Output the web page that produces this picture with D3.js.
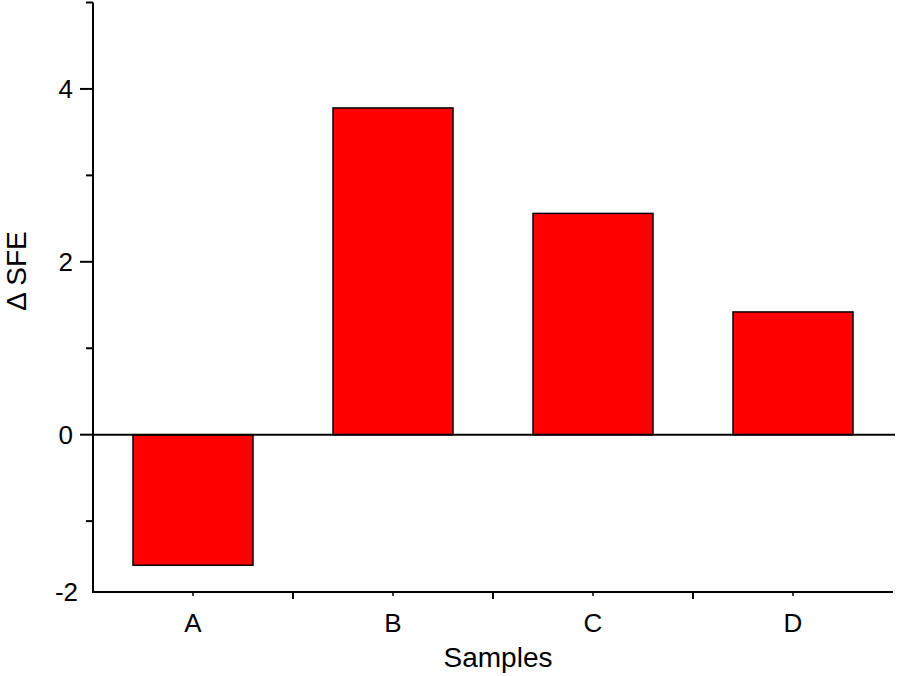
<!DOCTYPE html>
<html>
<head>
<meta charset="utf-8">
<script src="https://cdn.jsdelivr.net/npm/d3@7"></script>
<style>
  body { margin: 0; background: #fff; }
  text { font-family: "Liberation Sans", Arial, sans-serif; fill: #000; }
</style>
</head>
<body>
<svg id="chart" width="898" height="676"></svg>
<script>
// chart values
var samples = ["A", "B", "C", "D"];
var deltaSFE = [-1.51, 3.78, 2.56, 1.42];
var yMajorTicks = [4, 2, 0];
var yMinorTicks = [5, 3, 1, -1];
var yBottomLabel = "-2";

var svg = d3.select("#chart");
var margins = {top: 2.5, left: 93, right: 5, bottom: 84};
var width = +svg.attr("width"),
    height = +svg.attr("height");

var yMin = -1.82, yMax = 5;

var x = d3.scaleBand().domain(samples)
    .range([margins.left, width - margins.right])
    .paddingInner(0.4).paddingOuter(0.2);
var y = d3.scaleLinear().domain([yMin, yMax])
    .range([height - margins.bottom, margins.top]);

var step = x.step();

// bars
svg.selectAll(".bar")
  .data(samples)
  .enter().append("rect")
    .attr("class", "bar")
    .attr("x", function(d) { return x(d); })
    .attr("width", x.bandwidth())
    .attr("y", function(d, i) { return y(Math.max(0, deltaSFE[i])); })
    .attr("height", function(d, i) { return Math.abs(y(deltaSFE[i]) - y(0)); })
    .attr("fill", "#ff0000")
    .attr("stroke", "#000")
    .attr("stroke-width", 1.5);

// zero line
svg.append("line")
    .attr("x1", margins.left).attr("x2", width - 3)
    .attr("y1", y(0)).attr("y2", y(0))
    .attr("stroke", "#000").attr("stroke-width", 2);

// y axis
var yAxis = svg.append("g");
yAxis.append("line")
    .attr("x1", margins.left).attr("x2", margins.left)
    .attr("y1", y(yMax)).attr("y2", y(yMin) + 1)
    .attr("stroke", "#000").attr("stroke-width", 2);

yAxis.selectAll(".major")
  .data(yMajorTicks)
  .enter().append("line")
    .attr("x1", margins.left - 13).attr("x2", margins.left)
    .attr("y1", function(d) { return y(d); })
    .attr("y2", function(d) { return y(d); })
    .attr("stroke", "#000").attr("stroke-width", 2);

yAxis.selectAll(".minor")
  .data(yMinorTicks)
  .enter().append("line")
    .attr("x1", margins.left - 7).attr("x2", margins.left)
    .attr("y1", function(d) { return y(d); })
    .attr("y2", function(d) { return y(d); })
    .attr("stroke", "#000").attr("stroke-width", 2);

yAxis.selectAll(".ylab")
  .data(yMajorTicks)
  .enter().append("text")
    .attr("x", margins.left - 20)
    .attr("y", function(d) { return y(d); })
    .attr("dy", "0.35em")
    .attr("text-anchor", "end")
    .style("font-size", "26px")
    .text(function(d) { return d; });

yAxis.append("text")
    .attr("x", margins.left - 15)
    .attr("y", y(yMin))
    .attr("dy", "0.35em")
    .attr("text-anchor", "end")
    .style("font-size", "26px")
    .text(yBottomLabel);

// x axis
var xAxis = svg.append("g");
var x0 = y(yMin);
xAxis.append("line")
    .attr("x1", margins.left - 1).attr("x2", width - margins.right)
    .attr("y1", x0).attr("y2", x0)
    .attr("stroke", "#000").attr("stroke-width", 2);

var boundaries = samples.slice(1).map(function(d) { return x(d) - step * 0.2; });
xAxis.selectAll(".xmajor")
  .data(boundaries)
  .enter().append("line")
    .attr("x1", function(d) { return d; }).attr("x2", function(d) { return d; })
    .attr("y1", x0).attr("y2", x0 + 7)
    .attr("stroke", "#000").attr("stroke-width", 2);

xAxis.selectAll(".xminor")
  .data(samples)
  .enter().append("line")
    .attr("x1", function(d) { return x(d) + x.bandwidth() / 2; })
    .attr("x2", function(d) { return x(d) + x.bandwidth() / 2; })
    .attr("y1", x0).attr("y2", x0 + 4)
    .attr("stroke", "#000").attr("stroke-width", 1.5);

xAxis.selectAll(".xlab")
  .data(samples)
  .enter().append("text")
    .attr("x", function(d) { return x(d) + x.bandwidth() / 2; })
    .attr("y", x0 + 31)
    .attr("dy", "0.35em")
    .attr("text-anchor", "middle")
    .style("font-size", "26px")
    .text(function(d) { return d; });

// axis titles
svg.append("text")
    .attr("x", (margins.left + width - margins.right) / 2 + 5)
    .attr("y", 667)
    .attr("text-anchor", "middle")
    .style("font-size", "28px")
    .text("Samples");

svg.append("text")
    .attr("transform", "translate(26,271) rotate(-90)")
    .attr("text-anchor", "middle")
    .style("font-size", "28px")
    .text("\u0394 SFE");
</script>
</body>
</html>
